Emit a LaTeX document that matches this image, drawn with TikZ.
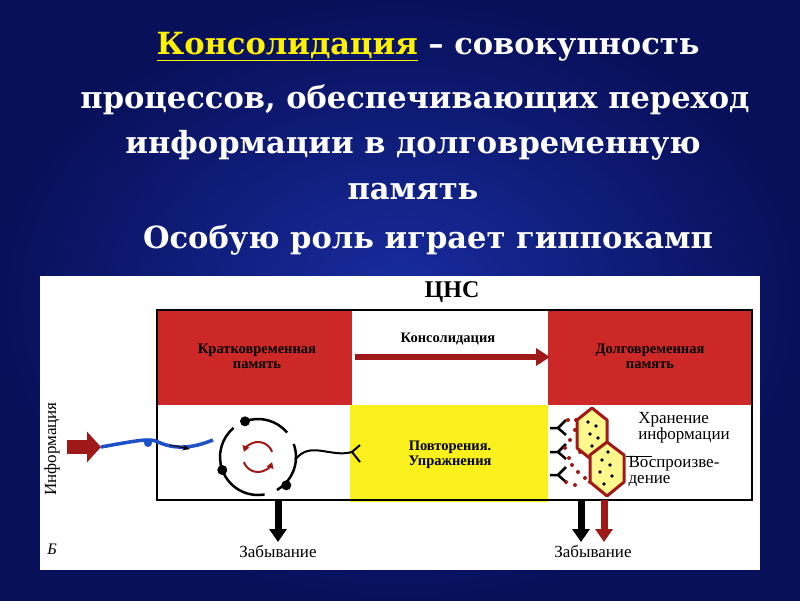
\documentclass[tikz,border=0pt]{standalone}
\usepackage{fontspec}
\setmainfont{Liberation Serif}
\newfontfamily\ttlfont{DejaVu Serif}
\usetikzlibrary{arrows.meta}
\definecolor{bgblue}{RGB}{24,44,160}
\definecolor{bgdark}{RGB}{8,16,90}
\definecolor{memred}{RGB}{205,40,40}
\definecolor{darkred}{RGB}{160,25,25}
\definecolor{yel}{RGB}{250,240,30}
\definecolor{lineblue}{RGB}{30,80,200}
\tikzset{
 ttl/.style={text=white,font=\ttlfont\bfseries\fontsize{30.5}{34}\selectfont,align=center},
 lbl/.style={font=\bfseries\fontsize{14.5}{15}\selectfont,align=center},
 plain/.style={font=\fontsize{17}{16}\selectfont,align=left},
 fat/.style={line width=7pt,-{Triangle[width=17pt,length=13pt]}},
 cell/.style={draw=darkred,fill=yel!50,line width=3pt,line join=round}
}
\begin{document}
\begin{tikzpicture}[x=1pt,y=-1pt]
\useasboundingbox (0,0) rectangle (800,600);
\shade[inner color=bgblue,outer color=bgdark] (0,0) rectangle (800,600);
\node[ttl] (t1) at (428,47) {\textcolor{yellow}{\underline{Консолидация}} – совокупность};
\node[ttl] (t2) at (415,100) {процессов, обеспечивающих переход};
\node[ttl] (t3) at (413,145) {информации в долговременную};
\node[ttl] (t4) at (413,192) {память};
\node[ttl] (t5) at (428,240) {Особую роль играет гиппокамп};
\fill[white] (40,276) rectangle (760,570);
\fill[memred] (157,310) rectangle (352,405);
\fill[memred] (548,310) rectangle (752,405);
\fill[yel] (350,405) rectangle (548,502);
\draw[line width=1.8pt] (157,310) rectangle (752,500);
\node[font=\bfseries\fontsize{24}{24}\selectfont] (cns) at (452,292) {ЦНС};
\node[lbl] (stm) at (257,356) {Кратковременная\\память};
\node[lbl] (ltm) at (650,356) {Долговременная\\память};
\node[lbl] (rep) at (450,455) {Повторения.\\Упражнения};
\node[lbl] (cons) at (448,339) {Консолидация};
\coordinate (ca) at (355,357);
\coordinate (cb) at (550,357);
\draw[darkred,line width=6pt,-{Triangle[width=17pt,length=14pt]}] (ca) -- (cb);
\node[plain,rotate=90] (inf) at (52,449) {Информация};
\coordinate (ia) at (67,447);
\coordinate (ib) at (101,447);
\draw[darkred,line width=14pt,-{Triangle[width=30pt,length=14pt]}] (ia) -- (ib);
\draw[lineblue,line width=3.5pt] (101,447) .. controls (140,440) and (150,438) .. (158,442) .. controls (180,452) and (200,445) .. (213,440);
\fill[lineblue] (148,443) circle (4);
\draw[-{Stealth},line width=1pt] (170,445) -- (190,449);
\coordinate (hc) at (258,457);
\draw[line width=2.5pt] ([shift={(160:38)}]hc) arc (160:80:38);
\draw[line width=2.5pt] ([shift={(60:38)}]hc) arc (60:-20:38);
\draw[line width=2.5pt] ([shift={(-40:38)}]hc) arc (-40:-110:38);
\draw[line width=2.5pt] ([shift={(-130:38)}]hc) arc (-130:-200:38);
\fill ([shift={(160:38)}]hc) circle (5);
\fill ([shift={(45:40)}]hc) circle (5);
\fill ([shift={(-110:38)}]hc) circle (5);
\draw[darkred,line width=2pt,-{Triangle[width=7pt,length=6pt]}] ([shift={(160:15)}]hc) arc (160:20:15);
\draw[darkred,line width=2pt,-{Triangle[width=7pt,length=6pt]}] ([shift={(-20:15)}]hc) arc (-20:-160:15);
\draw[line width=2pt] (295,460) .. controls (310,440) and (330,458) .. (352,452);
\draw[line width=2pt] (360,445) -- (352,452) -- (360,462);
\foreach \yy in {428,452,475}{\draw[line width=2.5pt] (566,\yy-8) -- (558,\yy) -- (566,\yy+7) (558,\yy) -- (550,\yy);}
\foreach \px/\py in {568/420,575/430,570/440,580/452,572/465,585/478,565/448,590/444,578/472,569/458,583/440,576/420,566/482,590/482,575/485}{\fill[darkred] (\px,\py) circle (2);}
\draw[cell] (592,408) -- (607,420) -- (607,448) -- (592,460) -- (577,448) -- (577,420) -- cycle;
\draw[cell] (607,442) -- (624,455) -- (624,482) -- (607,496) -- (590,482) -- (590,455) -- cycle;
\foreach \px/\py in {588/422,596/426,590/434,598/438,592/446,602/460,610/465,600/472,612/476,604/484,608/452}{\fill (\px,\py) circle (1.8);}
\node[plain] (store) at (684,428) {Хранение\\информации};
\draw[line width=1pt] (626,456) -- (652,456);
\node[plain] (rec) at (674,472) {Воспроизве-\\дение};
\coordinate (f1a) at (278,500);
\coordinate (f1b) at (278,542);
\draw[fat] (f1a) -- (f1b);
\coordinate (f2a) at (581,500);
\coordinate (f2b) at (581,542);
\draw[fat] (f2a) -- (f2b);
\coordinate (f3a) at (604,500);
\coordinate (f3b) at (604,542);
\draw[fat,darkred] (f3a) -- (f3b);
\node[plain] (zab1) at (278,551) {Забывание};
\node[plain] (zab2) at (593,551) {Забывание};
\node[plain,font=\itshape\fontsize{16}{16}\selectfont] (b) at (52,549) {Б};
\end{tikzpicture}
\end{document}
